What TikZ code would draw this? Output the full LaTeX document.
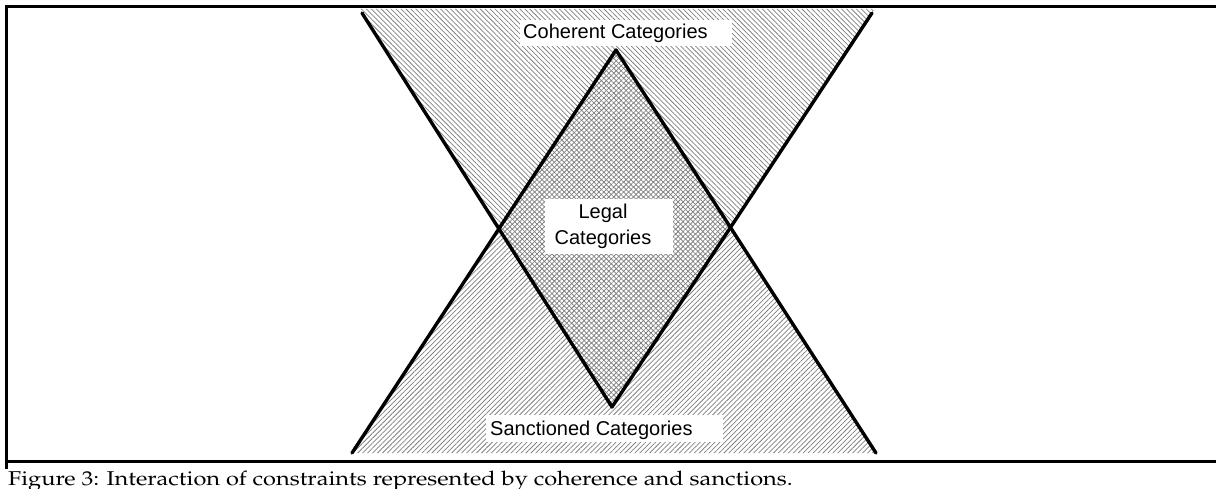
\documentclass[tikz,border=0pt]{standalone}
\usepackage[T1]{fontenc}
\usepackage{fontspec}
\setsansfont{Liberation Sans}
\usetikzlibrary{patterns.meta}
\newcommand\palfont{\fontencoding{T1}\fontfamily{ppl}\selectfont}
\tikzset{
  edge/.style={line width=3.4pt, line cap=round, line join=round},
  frameline/.style={line width=3pt},
  hatchdown/.style={pattern={Lines[angle=-45,distance=3.5pt,line width=0.75pt]}, pattern color=black!50},
  hatchup/.style={pattern={Lines[angle=45,distance=3.5pt,line width=0.75pt]}, pattern color=black!50},
  labeltext/.style={font=\sffamily\fontsize{20}{26}\selectfont, inner sep=0pt},
}
\begin{document}
\begin{tikzpicture}[x=1pt,y=-1pt]
\useasboundingbox (0,0) rectangle (1216,489);
% corners
\coordinate (vtl) at (362,13);
\coordinate (vtr) at (872,13);
\coordinate (vb) at (612,407);
\coordinate (la) at (616,50);
\coordinate (lbl) at (352,453);
\coordinate (lbr) at (876,453);
% hatched regions
\fill[hatchdown] (359.5,9) -- (874.5,9) -- (vb) -- cycle;
\fill[hatchup] (la) -- (lbr) -- (lbl) -- cycle;
% label boxes
\fill[white] (520,20.5) rectangle (732,46);
\fill[white] (545,199) rectangle (673,254);
\fill[white] (486,415) rectangle (723,442);
\node[labeltext, anchor=base west] (coh) at (523,39) {Coherent Categories};
\node[labeltext, anchor=base, align=center] (leg) at (603,245) {Legal\\Categories};
\node[labeltext, anchor=base west] (san) at (490,435) {Sanctioned Categories};
% edges
\draw[edge] (vtl) -- (vb) -- (vtr);
\draw[edge] (lbl) -- (la) -- (lbr);
% frame
\coordinate (ftl) at (6,7);
\coordinate (ftr) at (1216,7);
\coordinate (fbl) at (6,469);
\coordinate (fml) at (4.5,461);
\coordinate (fmr) at (1216,461);
\draw[frameline] (ftr) -- (ftl) -- (fbl);
\draw[frameline] (fml) -- (fmr);
% caption
\node[anchor=base west, inner sep=0pt, font=\palfont\fontsize{20}{22}\selectfont] (cap) at (8,485) {\scalebox{1.18}[1]{Figure 3: Interaction of constraints represented by coherence and sanctions.}};
\end{tikzpicture}
\end{document}
